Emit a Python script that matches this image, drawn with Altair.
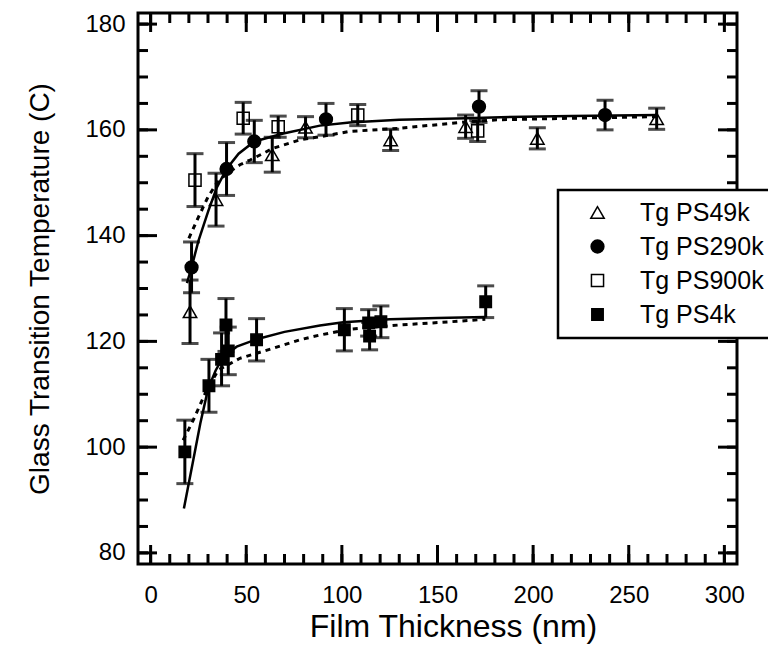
import altair as alt
import pandas as pd

# ---------------- data ----------------
series_names = ["Tg PS49k", "Tg PS290k", "Tg PS900k", "Tg PS4k"]

x49 = [20.6, 34.2, 63.6, 81.0, 125.5, 164.7, 202.2, 264.6]
y49 = [125.6, 146.8, 155.3, 160.5, 158.1, 160.6, 158.4, 162.1]
e49 = [6.0, 5.0, 3.3, 2.0, 2.0, 2.2, 2.0, 2.0]

x290 = [21.4, 39.7, 54.2, 91.7, 171.7, 237.6]
y290 = [134.0, 152.6, 157.8, 162.0, 164.4, 162.8]
e290 = [4.8, 5.0, 4.0, 3.0, 3.0, 2.8]

x900 = [23.2, 48.4, 66.7, 108.3, 171.0]
y900 = [150.5, 162.2, 160.6, 162.8, 159.8]
e900 = [5.0, 3.0, 2.0, 2.0, 2.0]

x4 = [17.9, 30.5, 37.1, 39.4, 40.6, 55.4, 101.3, 114.0, 114.5, 120.4, 175.2]
y4 = [99.1, 111.6, 116.6, 123.1, 118.2, 120.3, 122.2, 123.5, 121.0, 123.7, 127.5]
e4 = [6.0, 5.0, 5.0, 5.0, 4.5, 4.0, 4.0, 2.5, 2.6, 3.0, 3.0]

# fitted curves
fit290_x = [19, 21.4, 25, 30, 34.5, 39.7, 46, 54.2, 69.4, 88.5, 104, 130, 165, 183, 220, 265]
fit290_y = [131.0, 134.0, 139.0, 144.5, 149.0, 152.6, 155.5, 157.8, 159.3, 160.8, 161.4, 161.9, 162.2, 162.4, 162.6, 162.8]

fit49_x = [20, 25, 30, 34.5, 40, 46.7, 52, 64, 78, 88.5, 104, 130, 162, 181, 220, 265]
fit49_y = [139.5, 143.5, 147.3, 149.9, 151.8, 153.4, 154.3, 156.5, 158.1, 158.7, 159.7, 160.3, 161.4, 161.9, 162.2, 162.5]

fit4s_x = [17.4, 22, 26, 30.1, 34, 38, 45, 55.4, 70, 88.5, 100.7, 125, 150, 175]
fit4s_y = [88.4, 97.0, 104.5, 111.1, 114.5, 117.1, 119.0, 120.4, 121.8, 123.0, 123.6, 124.2, 124.4, 124.6]

fit4d_x = [17, 22.3, 29.3, 35.4, 46.7, 64.1, 78, 88.5, 104, 130, 156.5, 175]
fit4d_y = [101.3, 105.1, 110.8, 114.6, 116.8, 118.7, 120.3, 121.2, 122.3, 123.1, 123.7, 124.2]

x_labels = [0, 50, 100, 150, 200, 250, 300]
y_labels = [80, 100, 120, 140, 160, 180]
x_minor = list(range(0, 301, 10))
y_minor = list(range(80, 181, 5))

# ---------------- tables ----------------
rows = []
for name, xs_, ys_, es_ in [
    (series_names[0], x49, y49, e49),
    (series_names[1], x290, y290, e290),
    (series_names[2], x900, y900, e900),
    (series_names[3], x4, y4, e4),
]:
    for a, b, c in zip(xs_, ys_, es_):
        rows.append({"series": name, "x": a, "y": b, "lo": b - c, "hi": b + c})
pts = pd.DataFrame(rows)

W, H = 599, 551
FONT = "Liberation Sans"

xs = alt.Scale(domain=[-6.6, 306.6], nice=False, zero=False)
ys = alt.Scale(domain=[77.9, 182.1], nice=False, zero=False)

X = alt.X("x:Q", scale=xs,
          axis=alt.Axis(values=x_labels, title="Film Thickness (nm)", grid=False,
                        ticks=False, tickSize=0, domain=False, labelFontSize=24,
                        labelPadding=19, titleFontSize=32, titlePadding=4,
                        titleX=315,
                        labelFont=FONT, titleFont=FONT, titleFontWeight="normal",
                        labelColor="black", titleColor="black"))
Y = alt.Y("y:Q", scale=ys,
          axis=alt.Axis(values=y_labels, title="Glass Transition Temperature (C)", grid=False,
                        ticks=False, tickSize=0, domain=False, labelFontSize=24,
                        labelPadding=13, titleFontSize=28, titlePadding=30,
                        labelFont=FONT, titleFont=FONT, titleFontWeight="normal",
                        labelColor="black", titleColor="black"))


def fit_line(xv, yv, dash):
    df = pd.DataFrame({"x": xv, "y": yv})
    kw = dict(color="black", strokeWidth=2.5 if dash is None else 3)
    if dash is not None:
        kw["strokeDash"] = dash
    return alt.Chart(df).mark_line(**kw).encode(
        x=alt.X("x:Q", scale=xs), y=alt.Y("y:Q", scale=ys))


lines = (fit_line(fit290_x, fit290_y, None) + fit_line(fit49_x, fit49_y, [5, 5])
         + fit_line(fit4s_x, fit4s_y, None) + fit_line(fit4d_x, fit4d_y, [5, 5]))

bars = alt.Chart(pts).mark_rule(color="black", strokeWidth=3).encode(
    x=alt.X("x:Q", scale=xs), y=alt.Y("lo:Q", scale=ys), y2="hi:Q")
cap_lo = alt.Chart(pts).mark_tick(color="black", thickness=3, size=17, orient="horizontal").encode(
    x=alt.X("x:Q", scale=xs), y=alt.Y("lo:Q", scale=ys))
cap_hi = alt.Chart(pts).mark_tick(color="black", thickness=3, size=17, orient="horizontal").encode(
    x=alt.X("x:Q", scale=xs), y=alt.Y("hi:Q", scale=ys))

leg = alt.Legend(title=None, orient="none", legendX=420, legendY=177,
                 labelFontSize=25, labelFont=FONT, labelColor="black",
                 strokeColor="black", fillColor="white", padding=10,
                 symbolOffset=17, labelOffset=30, rowPadding=8, symbolStrokeWidth=1.5)

markers = alt.Chart(pts).mark_point(strokeWidth=1.5, opacity=1).encode(
    x=X, y=Y,
    shape=alt.Shape("series:N", sort=series_names,
                    scale=alt.Scale(domain=series_names,
                                    range=["triangle-up", "circle", "square", "square"]),
                    legend=leg),
    fill=alt.Fill("series:N", sort=series_names,
                  scale=alt.Scale(domain=series_names,
                                  range=["transparent", "black", "transparent", "black"]),
                  legend=leg),
    stroke=alt.Stroke("series:N", sort=series_names,
                      scale=alt.Scale(domain=series_names,
                                      range=["black", "black", "black", "black"]),
                      legend=leg),
    size=alt.Size("series:N", sort=series_names,
                  scale=alt.Scale(domain=series_names, range=[180, 130, 220, 250]),
                  legend=leg),
)

# inside ticks on all four sides
def tick_layer(vals, axis, length):
    df = pd.DataFrame({"v": vals})
    c = alt.Chart(df).mark_rule(color="black", strokeWidth=3)
    if axis == "bottom":
        return c.encode(x=alt.X("v:Q", scale=xs), y=alt.value(H), y2=alt.value(H - length))
    if axis == "top":
        return c.encode(x=alt.X("v:Q", scale=xs), y=alt.value(0), y2=alt.value(length))
    if axis == "left":
        return c.encode(y=alt.Y("v:Q", scale=ys), x=alt.value(0), x2=alt.value(length))
    return c.encode(y=alt.Y("v:Q", scale=ys), x=alt.value(W), x2=alt.value(W - length))

ticks = None
for ax_name in ["bottom", "top"]:
    for vals, ln in [(x_minor, 10), (x_labels, 19)]:
        t = tick_layer(vals, ax_name, ln)
        ticks = t if ticks is None else ticks + t
for ax_name in ["left", "right"]:
    for vals, ln in [(y_minor, 10), (y_labels, 19)]:
        ticks = ticks + tick_layer(vals, ax_name, ln)

chart = alt.layer(lines, bars, cap_lo, cap_hi, ticks, markers).properties(
    width=W, height=H,
    padding={"left": 138, "top": 13, "right": 31, "bottom": 96},
    autosize=alt.AutoSizeParams(type="none"),
    background="white",
).configure_view(stroke="black", strokeWidth=3).configure_legend(strokeWidth=2.5)

chart.save("out.html", embed_options={"renderer": "svg", "actions": False})
